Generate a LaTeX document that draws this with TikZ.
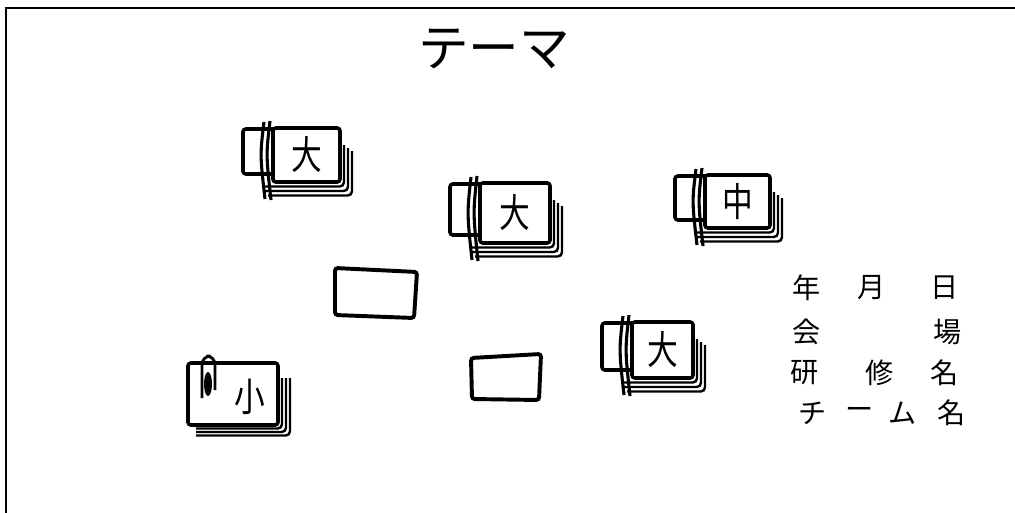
\documentclass[tikz,border=0pt]{standalone}
\usepackage{fontspec}
\usepackage{tikz}
\newfontfamily\cjk{Noto Sans CJK JP}
\tikzset{
  frame/.style={
    line width=1.8pt
  },
  card/.style={
    line width=2.5pt,
    rounded corners=2pt,
    fill=white
  },
  layer/.style={
    line width=1.7pt,
    rounded corners=3pt
  },
  band/.style={
    line width=2.2pt
  },
  blank/.style={
    line width=2.8pt,
    rounded corners=2pt
  },
  kanji/.style={
    font=\cjk\fontsize{28}{30}\selectfont,
    xscale=0.78,
    inner sep=0pt
  },
  title/.style={
    font=\cjk\fontsize{36}{40}\selectfont,
    inner sep=0pt
  },
  info/.style={
    font=\cjk\fontsize{20}{22}\selectfont,
    inner sep=0pt
  }
}
% #1 name, #2 left, #3 top, #4 right, #5 bottom, #6 label
\newcommand\CardStack[6]{
  \draw[card] (#2-30,#3+1) rectangle (#2+10,#5-8);
  \foreach \k in {1,2,3}
    \draw[layer] (#2-14+3*\k,#5+4.5*\k) -| (#4+4*\k,#3+14+3*\k);
  \draw[card] (#2,#3) rectangle (#4,#5);
  \draw[band] (#2-9,#3-6) .. controls (#2-13,{(#3+#5)/2}) .. (#2-8,#5+17);
  \draw[band] (#2-3,#3-7) .. controls (#2-7,{(#3+#5)/2}) .. (#2-2,#5+18);
  \node[kanji] (#1) at ({(#2+#4)/2},{(#3+#5)/2}) {#6};
}
\begin{document}
\begin{tikzpicture}[x=0.025cm,y=-0.025cm]
  \useasboundingbox (0,0) rectangle (1015,513);
  \draw[frame] (1015,8) -- (6,8) -- (6,513);

  \node[title] (theme) at (494,49) {テーマ};

  \CardStack{big1}{273}{128}{340}{182}{大}
  \CardStack{big2}{480}{183}{550}{243}{大}
  \CardStack{mid}{705}{175}{770}{228}{中}
  \CardStack{big3}{632}{322}{693}{378}{大}

  % small stack held by a paper clip
  \foreach \k in {1,2,3}
    \draw[layer] (196,425+3.5*\k) -| (278+4*\k,378);
  \draw[card] (188,363) rectangle (278,425);
  \draw[line width=2pt, rounded corners=6pt] (202,398) -- (202,356) -- (215,356) -- (215,390);
  \fill (208,384) ellipse [x radius=4, y radius=12];
  \node[kanji] (small) at (250,397) {小};

  % loose cards
  \draw[blank] (335,268) -- (417,272) -- (414,318) -- (335,315) -- cycle;
  \draw[blank] (471,358) -- (541,354) -- (539,400) -- (472,399) -- cycle;

  \node[info] (year)  at (807,288) {年};
  \node[info] (month) at (872,288) {月};
  \node[info] (day)   at (945,288) {日};
  \node[info] (ven1)  at (807,332) {会};
  \node[info] (ven2)  at (948,332) {場};
  \node[info] (crs1)  at (805,373) {研};
  \node[info] (crs2)  at (880,373) {修};
  \node[info] (crs3)  at (945,373) {名};
  \node[info] (team1) at (813,413) {チ};
  \node[info] (team2) at (860,413) {ー};
  \node[info] (team3) at (903,413) {ム};
  \node[info] (team4) at (952,413) {名};
\end{tikzpicture}
\end{document}
